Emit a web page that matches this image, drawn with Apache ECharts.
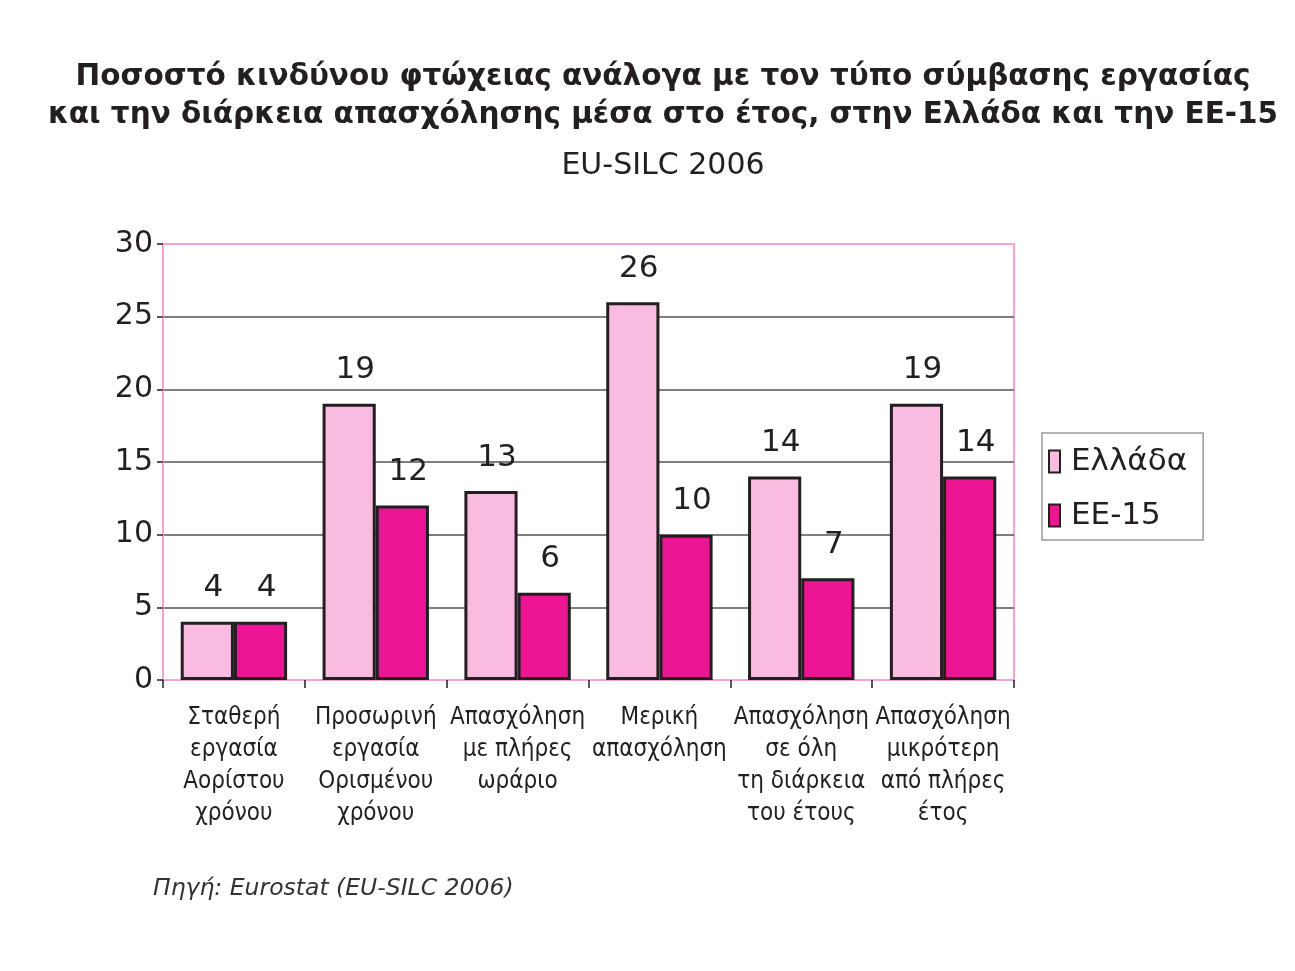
<!DOCTYPE html>
<html>
<head>
<meta charset="utf-8">
<script src="https://cdn.jsdelivr.net/npm/echarts@6/dist/echarts.min.js"></script>
<style>
html,body{margin:0;padding:0;background:#fff;}
#chart{width:1295px;height:971px;}
</style>
</head>
<body>
<div id="chart"></div>
<script>
const categories = [
  "Σταθερή\nεργασία\nΑορίστου\nχρόνου",
  "Προσωρινή\nεργασία\nΟρισμένου\nχρόνου",
  "Απασχόληση\nμε πλήρες\nωράριο",
  "Μερική\nαπασχόληση",
  "Απασχόληση\nσε όλη\nτη διάρκεια\nτου έτους",
  "Απασχόληση\nμικρότερη\nαπό πλήρες\nέτος"
];
const greece = [4, 19, 13, 26, 14, 19];
const eu15 = [4, 12, 6, 10, 7, 14];
const seriesNames = ["Ελλάδα", "ΕΕ-15"];
const yTicks = [0, 5, 10, 15, 20, 25, 30];

const chart = echarts.init(document.getElementById('chart'));
const baseFont = "'DejaVu Sans', sans-serif";
const condFont = "'DejaVu Sans Condensed', 'Liberation Sans Narrow', sans-serif";
const pink = '#f4a3d3';
const grid = '#555';
const labelStyle = {
  show: true, position: 'top', distance: 18, offset: [6, 0],
  color: '#231f20', fontSize: 31, fontFamily: baseFont
};
chart.setOption({
  animation: false,
  backgroundColor: '#fff',
  title: [
    {
      text: 'Ποσοστό κινδύνου φτώχειας ανάλογα με τον τύπο σύμβασης εργασίας\nκαι την διάρκεια απασχόλησης μέσα στο έτος, στην Ελλάδα και την ΕΕ-15',
      left: 658, top: 53, textAlign: 'center',
      textStyle: { fontSize: 29.5, fontWeight: 'bold', color: '#231f20', fontFamily: baseFont, lineHeight: 38 }
    },
    {
      text: 'EU-SILC 2006',
      left: 658, top: 146, textAlign: 'center',
      textStyle: { fontSize: 30, fontWeight: 'normal', color: '#231f20', fontFamily: baseFont }
    },
    {
      text: 'Πηγή: Eurostat (EU-SILC 2006)',
      left: 148, top: 872,
      textStyle: { fontSize: 23.5, fontWeight: 'normal', fontStyle: 'italic', color: '#333', fontFamily: baseFont }
    }
  ],
  legend: {
    orient: 'vertical',
    left: 1042, top: 433,
    padding: [13, 16, 9, 6],
    borderColor: '#999', borderWidth: 1.5,
    itemWidth: 11, itemHeight: 22, itemGap: 23,
    icon: 'rect',
    textStyle: { fontSize: 31, color: '#231f20', fontFamily: baseFont, padding: [0, 0, 0, 6] },
    data: seriesNames
  },
  grid: {
    left: 163, right: 281, top: 244, bottom: 291,
    show: true, borderColor: pink, borderWidth: 2, backgroundColor: 'transparent'
  },
  xAxis: {
    type: 'category',
    data: categories,
    axisLine: { show: true, lineStyle: { color: pink, width: 2 } },
    axisTick: { show: true, length: 8, lineStyle: { color: '#231f20', width: 1.5 } },
    axisLabel: {
      interval: 0, margin: 22, color: '#231f20', fontSize: 24, lineHeight: 32,
      fontFamily: condFont, align: 'center'
    }
  },
  yAxis: {
    type: 'value',
    min: 0, max: 30, interval: 5,
    axisLine: { show: true, lineStyle: { color: pink, width: 2 } },
    axisTick: { show: true, length: 6, lineStyle: { color: '#231f20', width: 1.5 } },
    axisLabel: { color: '#231f20', fontSize: 30, fontFamily: baseFont, margin: 10,
      padding: [8, 0, 0, 0],
      formatter: v => yTicks.includes(v) ? String(v) : '' },
    splitLine: { show: true, lineStyle: { color: [pink, grid, grid, grid, grid, grid, pink], width: 1.5 } }
  },
  series: [
    {
      name: seriesNames[0], type: 'bar', data: greece,
      barGap: '0%', barCategoryGap: '25%',
      itemStyle: { color: '#f9bbdf', borderColor: '#231f20', borderWidth: 3 },
      label: labelStyle
    },
    {
      name: seriesNames[1], type: 'bar', data: eu15,
      barGap: '0%', barCategoryGap: '25%',
      itemStyle: { color: '#ec1695', borderColor: '#231f20', borderWidth: 3 },
      label: labelStyle
    }
  ]
});
</script>
</body>
</html>
